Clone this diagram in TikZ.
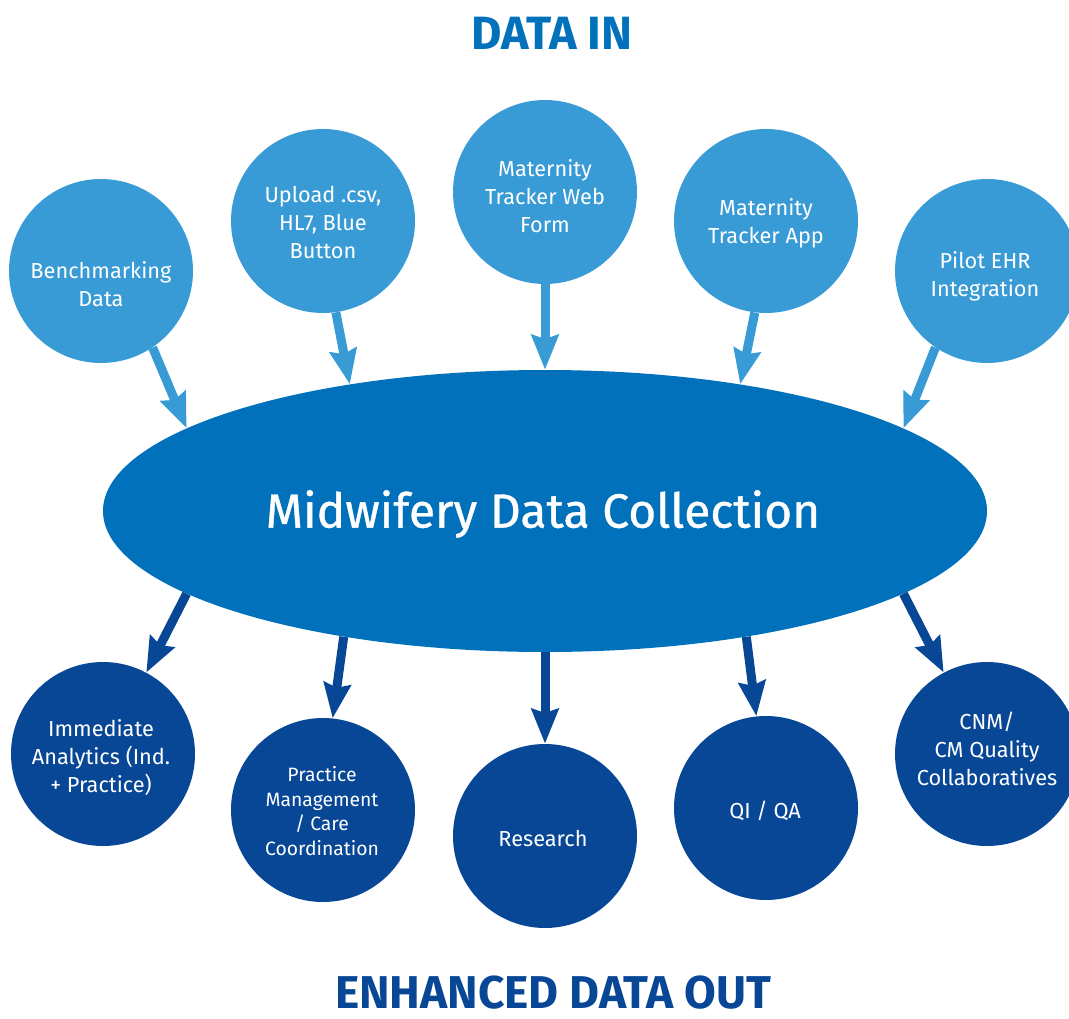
\documentclass[tikz,border=0pt]{standalone}
\usepackage{fontspec}
\setmainfont{Fira Sans}
\newfontfamily\medfont[FakeBold=0.8]{Fira Sans}
\usetikzlibrary{arrows.meta}
\usetikzlibrary{shapes.geometric}
\definecolor{lblue}{RGB}{56,155,214}
\definecolor{mblue}{RGB}{0,113,186}
\definecolor{dblue}{RGB}{8,70,150}
\tikzset{inbub/.style = {circle, fill=lblue, minimum size=138pt, inner sep=0}}
\tikzset{outbub/.style = {circle, fill=dblue, minimum size=138pt, inner sep=0}}
\tikzset{bubtxt/.style = {text=white, inner sep=0, align=center, font=\fontsize{16.3}{21}\selectfont}}
\tikzset{headtxt/.style = {inner sep=0, font=\bfseries\fontsize{35}{40}\selectfont}}
\tikzset{feedin/.style = {draw=lblue, line width=6.75pt,
                          -{Stealth[length=26pt, width=20pt, inset=3pt]}}}
\tikzset{feedout/.style = {draw=dblue, line width=6.75pt,
                           -{Stealth[length=26pt, width=20pt, inset=3pt]}}}

\begin{document}
\begin{tikzpicture}[x=0.75pt, y=-0.75pt]
    \useasboundingbox (0, 0) rectangle (1069, 1019);

    \node [headtxt, text=mblue] (datain) at (552, 33) {DATA IN};
    \node [headtxt, text=dblue, font=\bfseries\fontsize{34.5}{40}\selectfont] (dataout) at (553, 993) {ENHANCED DATA OUT};

    \node [ellipse, fill=mblue, minimum width=663pt, minimum height=211.5pt, inner sep=0] (coll) at (545, 511) {};
    \node [bubtxt, font=\medfont\fontsize{36}{42}\selectfont] (colltxt) at (543, 514) {Midwifery Data Collection};

    \node [inbub] (bench) at (101, 271) {};
    \node [inbub] (upload) at (323, 221) {};
    \node [inbub] (webform) at (545, 192) {};
    \node [inbub] (app) at (766, 221) {};
    \node [inbub] (ehr) at (987, 271) {};

    \node [bubtxt] (benchtxt) at (101, 284) {Benchmarking\\Data};
    \node [bubtxt] (uploadtxt) at (323, 222) {Upload .csv,\\HL7, Blue\\Button};
    \node [bubtxt] (webformtxt) at (545, 196) {Maternity\\Tracker Web\\Form};
    \node [bubtxt] (apptxt) at (766, 223) {Maternity\\Tracker App};
    \node [bubtxt] (ehrtxt) at (985, 276) {Pilot EHR\\Integration};

    \node [outbub] (analytics) at (103, 754) {};
    \node [outbub] (practice) at (323, 810) {};
    \node [outbub] (research) at (545, 836) {};
    \node [outbub] (qiqa) at (766, 808) {};
    \node [outbub] (cnm) at (987, 754) {};

    \node [bubtxt] (analyticstxt) at (101, 758) {Immediate\\Analytics (Ind.\\+ Practice)};
    \node [bubtxt, font=\fontsize{14.5}{18.4}\selectfont] (practicetxt) at (322, 811) {Practice\\Management\\/ Care\\Coordination};
    \node [bubtxt] (researchtxt) at (543, 838) {Research};
    \node [bubtxt] (qiqatxt) at (765, 811) {QI / QA};
    \node [bubtxt] (cnmtxt) at (987, 749) {CNM/\\CM Quality\\Collaboratives};

    \draw [feedin] (bench.-56) -- (coll.167);
    \draw [feedin] (upload.-82) -- (coll.147);
    \draw [feedin] (webform.-90) -- (coll.90);
    \draw [feedin] (app.-97) -- (coll.33);
    \draw [feedin] (ehr.-124) -- (coll.13);

    \draw [feedout] (coll.193) -- (analytics.62);
    \draw [feedout] (coll.212) -- (practice.84);
    \draw [feedout] (coll.270) -- (research.90);
    \draw [feedout] (coll.328) -- (qiqa.96);
    \draw [feedout] (coll.347) -- (cnm.118);
\end{tikzpicture}
\end{document}
